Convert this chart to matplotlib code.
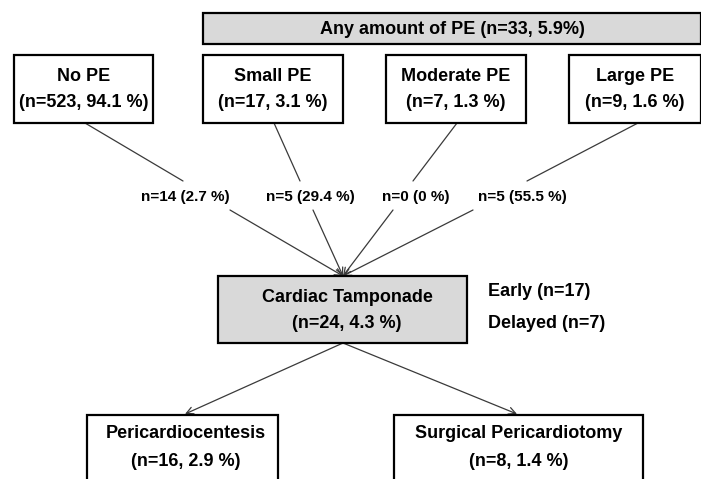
import matplotlib.pyplot as plt
from matplotlib.patches import Rectangle

# data
groups = ['No PE', 'Small PE', 'Moderate PE', 'Large PE']
group_n = [523, 17, 7, 9]
group_pct = [94.1, 3.1, 1.3, 1.6]
any_pe_n = 33
any_pe_pct = 5.9
tamp_n = [14, 5, 0, 5]
tamp_pct = [2.7, 29.4, 0, 55.5]
total_tamp_n = 24
total_tamp_pct = 4.3
timing = ['Early', 'Delayed']
timing_n = [17, 7]
treatments = ['Pericardiocentesis', 'Surgical Pericardiotomy']
treat_n = [16, 8]
treat_pct = [2.9, 1.4]

plt.rcParams['font.family'] = ['Liberation Sans', 'DejaVu Sans']
plt.rcParams['font.weight'] = 'bold'

fig = plt.figure(figsize=(7.01, 4.79), dpi=100)
ax = fig.add_axes([0, 0, 1, 1])
ax.set_xlim(0, 701)
ax.set_ylim(479, 0)
ax.axis('off')

BIG = 13
SMALL = 11
LINE = '#3a3a3a'
GRAY = '#d9d9d9'


def box(x0, y0, x1, y1, fill='white'):
    ax.add_patch(Rectangle((x0, y0), x1 - x0, y1 - y0, facecolor=fill,
                           edgecolor='black', lw=1.6, zorder=2))


def arrow(p0, p1, head=True):
    style = '->,head_length=0.5,head_width=0.25' if head else '-'
    ax.annotate('', xy=p1, xytext=p0,
                arrowprops=dict(arrowstyle=style, color=LINE, lw=0.9,
                                shrinkA=0, shrinkB=0), zorder=1)


# any amount of PE bar
box(203, 13, 701, 44, GRAY)
ax.text(452, 29, f'Any amount of PE (n={any_pe_n}, {any_pe_pct:g}%)',
        ha='center', va='center', fontsize=BIG, zorder=3)

# top boxes
top_boxes = [(14, 153), (203, 343), (386, 526), (569, 701)]
line_top = [85, 274, 457, 638]
line_mid = [183, 300, 413, 527]
label_x = [185, 310, 416, 522]
line_low = [230, 313, 393, 473]
tip = (343, 276)

for i, g in enumerate(groups):
    x0, x1 = top_boxes[i]
    box(x0, 55, x1, 123)
    cx = (x0 + x1) / 2
    ax.text(cx, 76, g, ha='center', va='center', fontsize=BIG, zorder=3)
    ax.text(cx, 102, f'(n={group_n[i]}, {group_pct[i]:g} %)', ha='center',
            va='center', fontsize=BIG, zorder=3)
    arrow((line_top[i], 123), (line_mid[i], 181), head=False)
    ax.text(label_x[i], 197, f'n={tamp_n[i]} ({tamp_pct[i]:g} %)',
            ha='center', va='center', fontsize=SMALL)
    arrow((line_low[i], 210), tip)

# cardiac tamponade
box(218, 276, 467, 343, GRAY)
ax.text(347, 297, 'Cardiac Tamponade', ha='center', va='center',
        fontsize=BIG, zorder=3)
ax.text(347, 323, f'(n={total_tamp_n}, {total_tamp_pct:g} %)', ha='center',
        va='center', fontsize=BIG, zorder=3)
for j, t in enumerate(timing):
    ax.text(488, [292, 323][j], f'{t} (n={timing_n[j]})', ha='left',
            va='center', fontsize=BIG)

# treatments
treat_boxes = [(87, 278), (394, 643)]
treat_tip = [(185, 414), (517, 414)]
for k, t in enumerate(treatments):
    x0, x1 = treat_boxes[k]
    box(x0, 415, x1, 500)
    cx = (x0 + x1) / 2 if k == 1 else 186
    ax.text(cx, 433, t, ha='center', va='center', fontsize=BIG, zorder=3)
    ax.text(cx, 461, f'(n={treat_n[k]}, {treat_pct[k]:g} %)', ha='center',
            va='center', fontsize=BIG, zorder=3)
    arrow((343, 343), treat_tip[k])

fig.savefig('out.png', dpi=100)
